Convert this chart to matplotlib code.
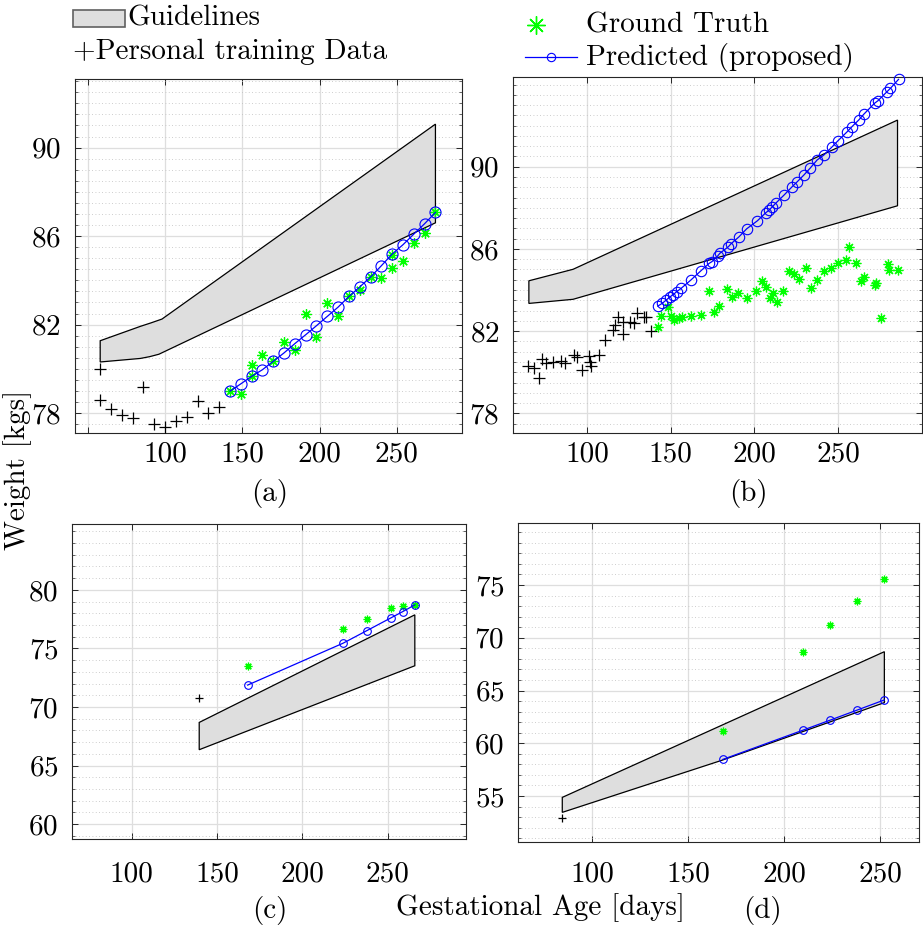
import matplotlib
matplotlib.use("Agg")
import matplotlib.pyplot as plt
import numpy as np
from matplotlib.lines import Line2D
from matplotlib.patches import Rectangle
from matplotlib.ticker import MultipleLocator

plt.rcParams["font.family"] = ["cmr10", "DejaVu Serif"]
plt.rcParams["axes.formatter.use_mathtext"] = True
plt.rcParams["font.size"] = 21

W, H = 923, 930

# ---------- (a) ----------
a_up_day = [58, 84, 91, 98, 275]
a_up_kg = [81.27, 81.92, 82.08, 82.25, 91.06]
a_lo_day = [58, 84, 90, 96, 275]
a_lo_kg = [80.31, 80.47, 80.55, 80.66, 86.60]
a_pers_day = [58, 58, 65, 72, 79, 86, 93, 100, 107, 114, 121, 128, 135]
a_pers_kg = [79.99, 78.61, 78.19, 77.90, 77.78, 79.17, 77.51, 77.36, 77.63, 77.83, 78.53, 78.00, 78.28]
a_pred_day = [142, 149, 156, 163, 170, 177, 184, 191, 198, 205, 212, 219, 226, 233, 240, 247, 254, 261, 268, 275]
a_pred_kg = [78.99, 79.32, 79.66, 79.96, 80.34, 80.72, 81.14, 81.54, 81.95, 82.37, 82.79, 83.27, 83.70, 84.15,
             84.66, 85.19, 85.61, 86.09, 86.56, 87.07]
a_gt_day = [142, 149, 156, 156, 163, 170, 177, 184, 191, 198, 205, 212, 219, 226, 233, 240, 247, 247, 254, 261, 268, 275]
a_gt_kg = [78.99, 78.87, 80.19, 79.66, 80.63, 80.34, 81.20, 80.87, 82.46, 81.42, 82.97, 82.40, 83.27, 83.58, 84.13,
           84.09, 84.55, 85.16, 84.88, 85.68, 86.13, 87.07]

# ---------- (b) ----------
b_up_day = [65.3, 91.7, 285.5]
b_up_kg = [84.45, 85.01, 92.27]
b_lo_day = [65.3, 91.7, 285.5]
b_lo_kg = [83.35, 83.55, 88.10]
b_pers_day = [64.9, 68.5, 71.3, 73.4, 75.8, 79.8, 84.7, 86.7, 92.1, 94.1, 97.0, 101.2, 102.0, 102.6, 107.2, 110.5,
              115.5, 116.9, 118.7, 121.4, 121.8, 125.8, 127.8, 130.0, 133.8, 135.3, 138.3]
b_pers_kg = [80.30, 80.22, 79.70, 80.63, 80.43, 80.51, 80.55, 80.46, 80.84, 80.76, 80.11, 80.79, 80.51, 80.30, 80.84,
             81.57, 82.05, 82.30, 82.67, 81.86, 82.46, 82.46, 82.41, 82.86, 82.67, 82.67, 82.02]
b_gt_day = [142.3, 144.3, 148.2, 150.2, 152.2, 155.2, 156.8, 162.1, 168.1, 173.0, 176.0, 179.0, 183.9, 186.5, 190.5,
            195.3, 201.2, 204.4, 207.2, 209.3, 211.3, 213.3, 217.3, 220.7, 223.6, 226.6, 230.6, 233.6, 237.5, 241.5,
            246.0, 249.8, 254.8, 256.4, 260.7, 263.9, 265.7, 271.8, 272.6, 275.8, 279.8, 280.6, 285.7]
b_gt_kg = [82.22, 82.75, 83.16, 82.75, 82.54, 82.65, 82.67, 82.73, 82.78, 83.97, 82.95, 83.22, 84.05, 83.68, 83.87,
           83.63, 83.97, 84.44, 84.16, 83.59, 83.84, 83.43, 83.97, 84.92, 84.78, 84.52, 85.09, 84.11, 84.49, 84.94,
           85.09, 85.30, 85.46, 86.11, 85.33, 84.44, 84.65, 84.24, 84.32, 82.62, 85.25, 84.97, 84.97]
b_pred_day = [142.3, 144.9, 147.3, 149.6, 151.2, 153.6, 156.2, 162.1, 168.1, 173.0, 174.6, 178.0, 179.4, 184.5, 185.9,
              190.8, 195.4, 201.8, 206.8, 208.8, 210.7, 212.7, 217.7, 222.6, 225.6, 229.6, 233.2, 237.5, 241.5, 246.1,
              250.0, 255.4, 258.3, 262.3, 265.3, 271.8, 273.8, 279.2, 281.2, 286.1]
b_pred_kg = [83.22, 83.35, 83.51, 83.67, 83.76, 83.92, 84.08, 84.49, 84.94, 85.30, 85.38, 85.65, 85.79, 86.11, 86.24,
             86.59, 86.98, 87.37, 87.76, 87.89, 88.05, 88.22, 88.62, 89.03, 89.27, 89.60, 89.92, 90.33, 90.57, 90.94,
             91.27, 91.70, 91.95, 92.27, 92.55, 93.09, 93.21, 93.65, 93.81, 94.25]

# ---------- (c) ----------
c_up_day = [139.6, 266]
c_up_kg = [68.68, 77.87]
c_lo_day = [139.6, 266]
c_lo_kg = [66.35, 73.52]
c_pers_day = [139.6]
c_pers_kg = [70.76]
c_pred_day = [168, 224, 238, 252, 259, 266]
c_pred_kg = [71.87, 75.45, 76.53, 77.61, 78.15, 78.72]
c_gt_day = [168, 224, 238, 252, 259, 266]
c_gt_kg = [73.52, 76.67, 77.50, 78.49, 78.66, 78.70]

# ---------- (d) ----------
d_up_day = [84.4, 252.1]
d_up_kg = [54.87, 68.68]
d_lo_day = [84.4, 167.9, 252.1]
d_lo_kg = [53.45, 58.41, 63.85]
d_pers_day = [84.4]
d_pers_kg = [52.95]
d_pred_day = [168, 210, 224, 238, 252]
d_pred_kg = [58.47, 61.26, 62.20, 63.15, 64.10]
d_gt_day = [168, 210, 224, 238, 252]
d_gt_kg = [61.20, 68.68, 71.21, 73.51, 75.54]

GREEN = "#00ff00"
BLUE = "#0000ff"
ASTER = (8, 2, 0)


def px_rect(left, top, right, bottom):
    return [left / W, 1 - bottom / H, (right - left) / W, (bottom - top) / H]


def panel(fig, rect, up_d, up_k, lo_d, lo_k, pers_d, pers_k, gt_d, gt_k, pred_d, pred_k,
          xlim, ylim, xticks, xlabels, yticks, ymin, msz, xpad):
    ax = fig.add_axes(rect)
    poly_x = np.concatenate([up_d, lo_d[::-1]])
    poly_y = np.concatenate([up_k, lo_k[::-1]])
    ax.fill(poly_x, poly_y, facecolor="#dedede", edgecolor="black", linewidth=0.9, zorder=2)
    ax.plot(pers_d, pers_k, "+", color="black", ms=msz[0], mew=0.9, ls="none", zorder=3)
    ax.plot(gt_d, gt_k, ls="none", marker=ASTER, color=GREEN, ms=msz[1], mew=0.9, zorder=4)
    ax.plot(pred_d, pred_k, "-o", color=BLUE, ms=msz[2], mfc="none", mew=0.8, lw=0.9,
            zorder=5, clip_on=False)
    ax.set_xlim(*xlim)
    ax.set_ylim(*ylim)
    ax.set_xticks(xticks)
    ax.set_xticklabels(xlabels)
    ax.set_yticks(yticks)
    ax.yaxis.set_minor_locator(MultipleLocator(ymin))
    ax.grid(True, which="major", color="#dedede", lw=0.9, zorder=0)
    ax.grid(True, which="minor", axis="y", color="#bdbdbd", lw=0.6, ls=(0, (1, 3)), zorder=0)
    ax.set_axisbelow(True)
    ax.tick_params(which="both", direction="in", top=True, right=True, color="#262626")
    ax.tick_params(which="major", length=4.5, width=0.7)
    ax.tick_params(which="minor", length=2, width=0.5)
    ax.tick_params(axis="x", pad=xpad)
    ax.tick_params(axis="y", pad=10)
    for s in ax.spines.values():
        s.set_color("#262626")
        s.set_linewidth(0.8)
    return ax


fig = plt.figure(figsize=(W / 100, H / 100), dpi=100)

panel(fig, px_rect(74.7, 79, 461.7, 433), a_up_day, a_up_kg, a_lo_day, a_lo_kg,
      a_pers_day, a_pers_kg, a_gt_day, a_gt_kg, a_pred_day, a_pred_kg,
      (41.5, 292), (77.1, 93.1), [50, 100, 150, 200, 250], ["", "100", "150", "200", "250"],
      [78, 82, 86, 90], 0.5, (8, 7.5, 8), 6)

panel(fig, px_rect(513.3, 76.7, 921.8, 432.7), b_up_day, b_up_kg, b_lo_day, b_lo_kg,
      b_pers_day, b_pers_kg, b_gt_day, b_gt_kg, b_pred_day, b_pred_kg,
      (56, 300), (77.06, 94.38), [100, 150, 200, 250], ["100", "150", "200", "250"],
      [78, 82, 86, 90], 0.5, (8, 7, 7.5), 6)

panel(fig, px_rect(72.3, 524.3, 466, 839.3), c_up_day, c_up_kg, c_lo_day, c_lo_kg,
      c_pers_day, c_pers_kg, c_gt_day, c_gt_kg, c_pred_day, c_pred_kg,
      (65.2, 296), (58.7, 85.6), [100, 150, 200, 250], ["100", "150", "200", "250"],
      [60, 65, 70, 75, 80], 1, (5.5, 5.5, 5.5), 16)

panel(fig, px_rect(518.3, 523.3, 919.3, 841.7), d_up_day, d_up_kg, d_lo_day, d_lo_kg,
      d_pers_day, d_pers_kg, d_gt_day, d_gt_kg, d_pred_day, d_pred_kg,
      (61.5, 270.3), (50.67, 80.85), [100, 150, 200, 250], ["100", "150", "200", "250"],
      [55, 60, 65, 70, 75], 1, (5.5, 5.5, 5.5), 14)

# panel labels and shared axis labels
fig.text(270 / W, 1 - 494 / H, "(a)", ha="center", va="center")
fig.text(748 / W, 1 - 494 / H, "(b)", ha="center", va="center")
fig.text(270 / W, 1 - 910 / H, "(c)", ha="center", va="center")
fig.text(762 / W, 1 - 910 / H, "(d)", ha="center", va="center")
fig.text(540 / W, 1 - 908 / H, "Gestational Age [days]", ha="center", va="center")
fig.text(18 / W, 1 - 470 / H, "Weight [kgs]", ha="center", va="center", rotation=90)

# legends drawn in figure coordinates
fig.add_artist(Rectangle((73 / W, 1 - 27 / H), 52 / W, 17 / H, transform=fig.transFigure,
                         facecolor="#dedede", edgecolor="#606060", linewidth=1.2))
fig.text(127 / W, 1 - 18 / H, "Guidelines", ha="left", va="center")
fig.text(73 / W, 1 - 52 / H, "+Personal training Data", ha="left", va="center")
fig.add_artist(Line2D([536 / W], [1 - 25 / H], transform=fig.transFigure, ls="none",
                      marker=ASTER, color=GREEN, ms=13, mew=1.0))
fig.text(586 / W, 1 - 25 / H, "Ground Truth", ha="left", va="center")
fig.add_artist(Line2D([525 / W, 577 / W], [1 - 57 / H, 1 - 57 / H], transform=fig.transFigure,
                      color=BLUE, lw=0.9))
fig.add_artist(Line2D([551 / W], [1 - 57 / H], transform=fig.transFigure, ls="none",
                      marker="o", color=BLUE, mfc="none", ms=6, mew=0.8))
fig.text(586 / W, 1 - 57 / H, "Predicted (proposed)", ha="left", va="center")

fig.savefig("out.png", dpi=100)
